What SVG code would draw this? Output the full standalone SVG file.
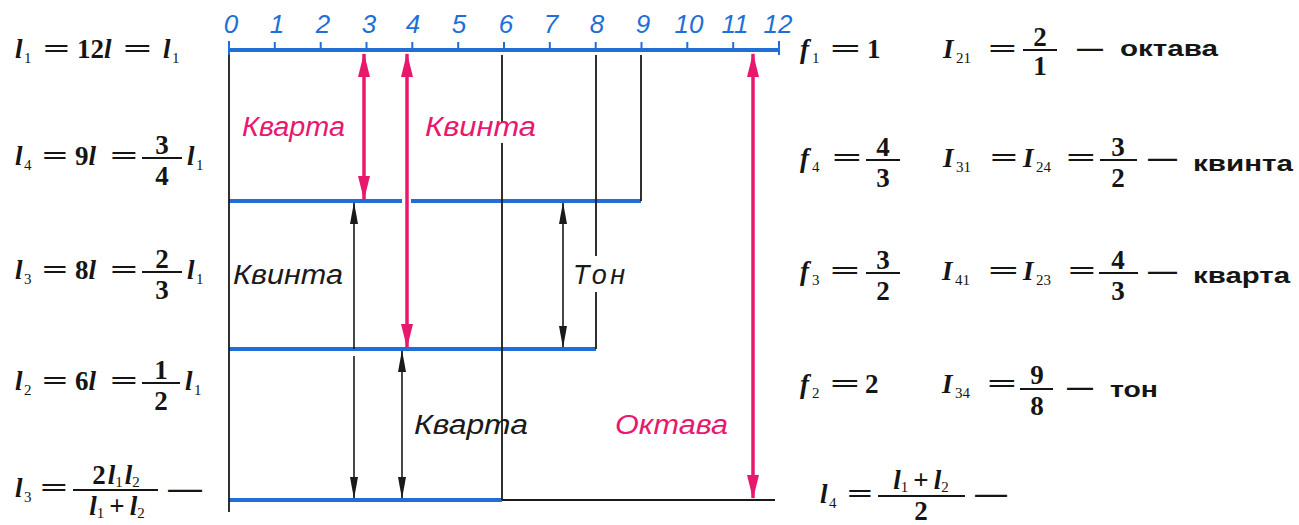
<svg xmlns="http://www.w3.org/2000/svg" width="1299" height="525" viewBox="0 0 1299 525">
<style>
.bl{stroke:#1f6fd6;stroke-width:4;fill:none}
.tk{stroke:#1f6fd6;stroke-width:2;fill:none}
.k{stroke:#1a1a1a;stroke-width:1.8;fill:none}
.pa{stroke:#e8186d;stroke-width:3.5;fill:none}
.ba{stroke:#1a1a1a;stroke-width:1.6;fill:none}
.num{font-family:"Liberation Sans",Arial,sans-serif;font-style:italic;font-size:26px;fill:#1f6fd6;text-anchor:middle}
.g{font-family:"Liberation Sans",Arial,sans-serif;font-style:italic;font-size:27px}
.gp{fill:#e8186d}
.gk{fill:#1a1a1a}
.m{font-family:"Liberation Serif","Times New Roman",serif;font-size:27px;font-weight:bold;fill:#151515}
.i{font-style:italic}
.sb{font-size:15px;font-weight:normal;font-style:normal}
.c{text-anchor:middle}
.w{font-family:"Liberation Sans",Arial,sans-serif;font-weight:bold;font-size:22px;fill:#151515}
.fb{stroke:#151515;stroke-width:1.8}
</style>
<defs>
<marker id="ph" markerUnits="userSpaceOnUse" markerWidth="24" markerHeight="12" refX="23" refY="6" orient="auto-start-reverse"><path d="M0,0 L24,6 L0,12 z" fill="#e8186d"/></marker>
<marker id="bh" markerUnits="userSpaceOnUse" markerWidth="22" markerHeight="8" refX="21" refY="4" orient="auto-start-reverse"><path d="M0,0 L22,4 L0,8 z" fill="#1a1a1a"/></marker>
</defs>
<rect width="1299" height="525" fill="#ffffff"/>

<g id="ruler">
<path class="tk" d="M229,41V55 M274.8,42V50 M320.7,42V50 M366.5,42V50 M412.3,42V50 M458.2,42V50 M504,42V50 M549.8,42V50 M595.7,42V50 M641.5,42V50 M687.3,42V50 M733.2,42V50 M779,41V55"/>
<path class="bl" d="M229,50H779"/>
<text class="num" x="231" y="33">0</text>
<text class="num" x="277" y="33">1</text>
<text class="num" x="323" y="33">2</text>
<text class="num" x="369" y="33">3</text>
<text class="num" x="413" y="33">4</text>
<text class="num" x="459" y="33">5</text>
<text class="num" x="506" y="33">6</text>
<text class="num" x="551" y="33">7</text>
<text class="num" x="597" y="33">8</text>
<text class="num" x="643" y="33">9</text>
<text class="num" x="689" y="33">10</text>
<text class="num" x="735" y="33">11</text>
<text class="num" x="778" y="33">12</text>
</g>

<g id="strings">
<path class="bl" d="M229,201H402 M411,201H641"/>
<path class="bl" d="M229,349H596"/>
<path class="bl" d="M229,500H502"/>
<path class="k" d="M502,500H775"/>
<path class="k" d="M229,55V512"/>
<path class="k" d="M502,55V123 M502,143V500"/>
<path class="k" d="M596,55V256 M596,292V349"/>
<path class="k" d="M641,55V201"/>
</g>

<g id="connectors">
<path class="pa" d="M364,54V199" marker-start="url(#ph)" marker-end="url(#ph)"/>
<path class="pa" d="M407,54V347" marker-start="url(#ph)" marker-end="url(#ph)"/>
<path class="pa" d="M753,54V498" marker-start="url(#ph)" marker-end="url(#ph)"/>
<path class="ba" d="M354,203V349" marker-start="url(#bh)"/>
<path class="ba" d="M354,356V498" marker-end="url(#bh)"/>
<path class="ba" d="M402,351V498" marker-start="url(#bh)" marker-end="url(#bh)"/>
<path class="ba" d="M563,203V347" marker-start="url(#bh)" marker-end="url(#bh)"/>
</g>

<g id="interval-labels">
<text class="g gp" x="242" y="136" textLength="103" lengthAdjust="spacingAndGlyphs">Кварта</text>
<text class="g gp" x="425" y="136" textLength="111" lengthAdjust="spacingAndGlyphs">Квинта</text>
<text class="g gk" x="233" y="284" textLength="110" lengthAdjust="spacingAndGlyphs">Квинта</text>
<text class="g gk" x="573" y="284" textLength="52" lengthAdjust="spacing">Тон</text>
<text class="g gk" x="414" y="434" textLength="114" lengthAdjust="spacingAndGlyphs">Кварта</text>
<text class="g gp" x="615" y="434" textLength="113" lengthAdjust="spacingAndGlyphs">Октава</text>
</g>

<g id="left-row1">
<text class="m i" x="15" y="58">l</text><text class="m sb" x="24" y="63">1</text>
<text class="m" x="43" y="58" textLength="27" lengthAdjust="spacingAndGlyphs">=</text>
<text class="m" x="77" y="58">12<tspan class="i">l</tspan></text>
<text class="m" x="123" y="58" textLength="29" lengthAdjust="spacingAndGlyphs">=</text>
<text class="m i" x="163" y="58">l</text><text class="m sb" x="172" y="63">1</text>
</g>
<g id="left-row2">
<text class="m i" x="15" y="165">l</text><text class="m sb" x="24" y="170">4</text>
<text class="m" x="42" y="165" textLength="26" lengthAdjust="spacingAndGlyphs">=</text>
<text class="m" x="75" y="165">9<tspan class="i">l</tspan></text>
<text class="m" x="110" y="165" textLength="28" lengthAdjust="spacingAndGlyphs">=</text>
<line class="fb" x1="142" y1="158" x2="182" y2="158"/>
<text class="m c" x="162" y="154">3</text><text class="m c" x="162" y="185">4</text>
<text class="m i" x="187" y="165">l</text><text class="m sb" x="196" y="170">1</text>
</g>
<g id="left-row3">
<text class="m i" x="15" y="279">l</text><text class="m sb" x="24" y="284">3</text>
<text class="m" x="42" y="279" textLength="26" lengthAdjust="spacingAndGlyphs">=</text>
<text class="m" x="75" y="279">8<tspan class="i">l</tspan></text>
<text class="m" x="110" y="279" textLength="28" lengthAdjust="spacingAndGlyphs">=</text>
<line class="fb" x1="142" y1="272" x2="182" y2="272"/>
<text class="m c" x="162" y="268">2</text><text class="m c" x="162" y="299">3</text>
<text class="m i" x="187" y="279">l</text><text class="m sb" x="196" y="284">1</text>
</g>
<g id="left-row4">
<text class="m i" x="15" y="390">l</text><text class="m sb" x="24" y="395">2</text>
<text class="m" x="42" y="390" textLength="26" lengthAdjust="spacingAndGlyphs">=</text>
<text class="m" x="75" y="390">6<tspan class="i">l</tspan></text>
<text class="m" x="110" y="390" textLength="28" lengthAdjust="spacingAndGlyphs">=</text>
<line class="fb" x1="142" y1="383" x2="180" y2="383"/>
<text class="m c" x="161" y="379">1</text><text class="m c" x="161" y="410">2</text>
<text class="m i" x="185" y="390">l</text><text class="m sb" x="194" y="395">1</text>
</g>
<g id="left-row5">
<text class="m i" x="15" y="497">l</text><text class="m sb" x="24" y="502">3</text>
<text class="m" x="40" y="497" textLength="28" lengthAdjust="spacingAndGlyphs">=</text>
<line class="fb" x1="73" y1="490" x2="158" y2="490"/>
<text class="m c" x="116" y="484">2<tspan class="i" dx="2">l</tspan><tspan class="sb" dy="3">1</tspan><tspan class="i" dy="-3" dx="2">l</tspan><tspan class="sb" dy="3">2</tspan></text>
<text class="m c" x="117" y="515"><tspan class="i">l</tspan><tspan class="sb" dy="3">1</tspan><tspan dy="-3" dx="5">+</tspan><tspan class="i" dx="5">l</tspan><tspan class="sb" dy="3">2</tspan></text>
<text class="w" x="168" y="497" textLength="34" lengthAdjust="spacingAndGlyphs">—</text>
</g>

<g id="right-row1">
<text class="m i" x="800" y="58">f</text><text class="m sb" x="812" y="63">1</text>
<text class="m" x="830" y="58" textLength="31" lengthAdjust="spacingAndGlyphs">=</text>
<text class="m" x="867" y="58">1</text>
<text class="m i" x="943" y="58">I</text><text class="m sb" x="956" y="63">21</text>
<text class="m" x="988" y="58" textLength="29" lengthAdjust="spacingAndGlyphs">=</text>
<line class="fb" x1="1023" y1="50" x2="1057" y2="50"/>
<text class="m c" x="1040" y="46">2</text><text class="m c" x="1040" y="75">1</text>
<text class="w" x="1077" y="56" textLength="26" lengthAdjust="spacingAndGlyphs">—</text>
<text class="w" x="1120" y="56" textLength="98" lengthAdjust="spacingAndGlyphs">октава</text>
</g>
<g id="right-row2">
<text class="m i" x="800" y="167">f</text><text class="m sb" x="812" y="172">4</text>
<text class="m" x="832" y="167" textLength="30" lengthAdjust="spacingAndGlyphs">=</text>
<line class="fb" x1="866" y1="160" x2="900" y2="160"/>
<text class="m c" x="883" y="156">4</text><text class="m c" x="883" y="187">3</text>
<text class="m i" x="943" y="167">I</text><text class="m sb" x="956" y="172">31</text>
<text class="m" x="990" y="167" textLength="28" lengthAdjust="spacingAndGlyphs">=</text>
<text class="m i" x="1023" y="167">I</text><text class="m sb" x="1036" y="172">24</text>
<text class="m" x="1066" y="167" textLength="30" lengthAdjust="spacingAndGlyphs">=</text>
<line class="fb" x1="1100" y1="160" x2="1137" y2="160"/>
<text class="m c" x="1118" y="156">3</text><text class="m c" x="1118" y="187">2</text>
<text class="w" x="1148" y="166" textLength="29" lengthAdjust="spacingAndGlyphs">—</text>
<text class="w" x="1193" y="171" textLength="100" lengthAdjust="spacingAndGlyphs">квинта</text>
</g>
<g id="right-row3">
<text class="m i" x="800" y="280">f</text><text class="m sb" x="812" y="285">3</text>
<text class="m" x="830" y="280" textLength="30" lengthAdjust="spacingAndGlyphs">=</text>
<line class="fb" x1="866" y1="273" x2="900" y2="273"/>
<text class="m c" x="883" y="269">3</text><text class="m c" x="883" y="300">2</text>
<text class="m i" x="942" y="280">I</text><text class="m sb" x="955" y="285">41</text>
<text class="m" x="988" y="280" textLength="31" lengthAdjust="spacingAndGlyphs">=</text>
<text class="m i" x="1023" y="280">I</text><text class="m sb" x="1036" y="285">23</text>
<text class="m" x="1068" y="280" textLength="28" lengthAdjust="spacingAndGlyphs">=</text>
<line class="fb" x1="1099" y1="273" x2="1138" y2="273"/>
<text class="m c" x="1118" y="269">4</text><text class="m c" x="1118" y="300">3</text>
<text class="w" x="1148" y="279" textLength="29" lengthAdjust="spacingAndGlyphs">—</text>
<text class="w" x="1193" y="283" textLength="97" lengthAdjust="spacingAndGlyphs">кварта</text>
</g>
<g id="right-row4">
<text class="m i" x="800" y="393">f</text><text class="m sb" x="812" y="398">2</text>
<text class="m" x="830" y="393" textLength="30" lengthAdjust="spacingAndGlyphs">=</text>
<text class="m" x="865" y="393">2</text>
<text class="m i" x="942" y="393">I</text><text class="m sb" x="955" y="398">34</text>
<text class="m" x="987" y="393" textLength="30" lengthAdjust="spacingAndGlyphs">=</text>
<line class="fb" x1="1020" y1="389" x2="1053" y2="389"/>
<text class="m c" x="1037" y="384">9</text><text class="m c" x="1037" y="415">8</text>
<text class="w" x="1067" y="395" textLength="26" lengthAdjust="spacingAndGlyphs">—</text>
<text class="w" x="1110" y="397" textLength="48" lengthAdjust="spacingAndGlyphs">тон</text>
</g>
<g id="right-row5">
<text class="m i" x="820" y="503">l</text><text class="m sb" x="829" y="508">4</text>
<text class="m" x="847" y="503" textLength="26" lengthAdjust="spacingAndGlyphs">=</text>
<line class="fb" x1="878" y1="496" x2="965" y2="496"/>
<text class="m c" x="921" y="489"><tspan class="i">l</tspan><tspan class="sb" dy="3">1</tspan><tspan dy="-3" dx="5">+</tspan><tspan class="i" dx="5">l</tspan><tspan class="sb" dy="3">2</tspan></text>
<text class="m c" x="921" y="520">2</text>
<text class="w" x="975" y="502" textLength="32" lengthAdjust="spacingAndGlyphs">—</text>
</g>
</svg>
